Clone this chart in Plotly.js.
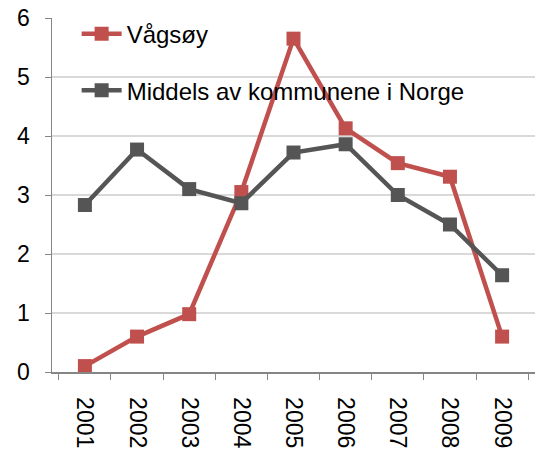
<!DOCTYPE html>
<html><head><meta charset="utf-8">
<script src="https://cdn.plot.ly/plotly-3.0.1.min.js"></script>
<style>html,body{margin:0;padding:0;background:#fff}#chart{width:537px;height:457px}</style>
</head><body><div id="chart"></div>
<script>
const years = ['2001','2002','2003','2004','2005','2006','2007','2008','2009'];
const vagsoy = [0.1, 0.6, 0.98, 3.05, 5.65, 4.13, 3.54, 3.31, 0.6];
const middels = [2.83, 3.77, 3.1, 2.86, 3.72, 3.86, 3.0, 2.5, 1.64];
const seriesNames = ['Vågsøy', 'Middels av kommunene i Norge'];
const yTicks = [0,1,2,3,4,5,6];

const traces = [
  {x: years, y: vagsoy, name: seriesNames[0], type:'scatter', mode:'lines+markers',
   line:{color:'#c0504d', width:4.5}, marker:{symbol:'square', size:14, color:'#c0504d'}, legend:'legend'},
  {x: years, y: middels, name: seriesNames[1], type:'scatter', mode:'lines+markers',
   line:{color:'#555555', width:4.5}, marker:{symbol:'square', size:14, color:'#555555'}, legend:'legend2'}
];
const legFont = {family:'Liberation Sans, Arial, sans-serif', size:24, color:'#000'};
const layout = {
  width:537, height:457,
  margin:{l:52, r:2, t:18, b:85},
  paper_bgcolor:'#fff', plot_bgcolor:'#fff',
  font:{family:'Liberation Sans, Arial, sans-serif', size:23, color:'#000'},
  xaxis:{type:'category', tickangle:90, showgrid:false, showline:true, linecolor:'#868686', linewidth:1.5,
         ticks:'outside', ticklen:6, tickcolor:'#868686', tickson:'boundaries', zeroline:false,
         tickfont:{size:23}, ticklabelstandoff:19, automargin:false},
  yaxis:{range:[0,6], tickvals:yTicks, showgrid:true, gridcolor:'#d9d9d9', gridwidth:1.5, showline:true,
         linecolor:'#868686', linewidth:1.5, ticks:'outside', ticklen:6, tickcolor:'#868686', zeroline:false,
         tickfont:{size:23}, ticklabelstandoff:10, automargin:false},
  showlegend:true,
  legend:{x:0.051, y:1.018, xanchor:'left', yanchor:'top', bgcolor:'rgba(0,0,0,0)', font:legFont, itemwidth:40},
  legend2:{x:0.051, y:0.858, xanchor:'left', yanchor:'top', bgcolor:'rgba(0,0,0,0)', font:legFont, itemwidth:40}
};
Plotly.newPlot('chart', traces, layout, {displayModeBar:false, staticPlot:true});
</script></body></html>
